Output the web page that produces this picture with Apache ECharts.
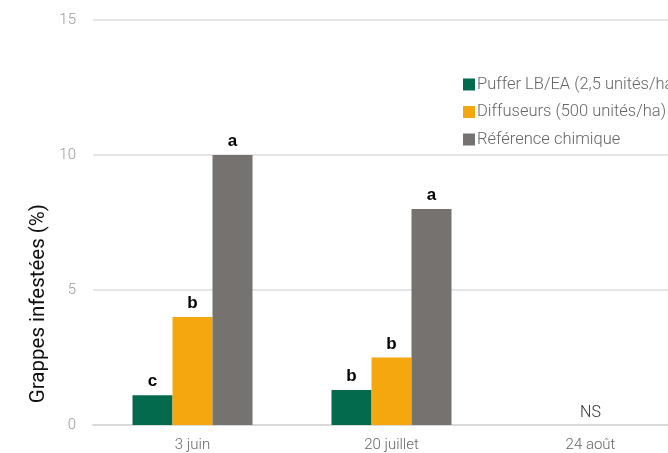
<!DOCTYPE html>
<html>
<head>
<meta charset="utf-8">
<script src="https://cdn.jsdelivr.net/npm/echarts@6/dist/echarts.min.js"></script>
<style>
html,body{margin:0;padding:0;background:#fff;overflow:hidden;width:668px;height:453px;}
#main{width:690px;height:453px;}
</style>
</head>
<body>
<div id="main"></div>
<script>
const categories = ['3 juin', '20 juillet', '24 août'];
const seriesNames = ['Puffer LB/EA (2,5 unités/ha)', 'Diffuseurs (500 unités/ha)', 'Référence chimique'];
const pufferValues = [1.1, 1.3, 0];
const diffuseurValues = [4, 2.5, 0];
const referenceValues = [10, 8, 0];
const pufferLetters = ['c', 'b', ''];
const diffuseurLetters = ['b', 'b', 'NS'];
const referenceLetters = ['a', 'a', ''];
const yTitle = 'Grappes infestées (%)';

const colors = ['#046A4E', '#F5A70F', '#767270'];
const FONT = 'Roboto';

function buildData(values, letters) {
  return values.map((v, i) => {
    const l = letters[i];
    const item = { value: v, label: { formatter: l } };
    if (l === 'NS') {
      item.label.fontWeight = 300;
      item.label.fontFamily = FONT;
      item.label.color = '#333';
      item.label.fontSize = 16;
      item.label.distance = 4;
    }
    return item;
  });
}

const chart = echarts.init(document.getElementById('main'), null, { renderer: 'canvas' });
const labelBase = {
  show: true, position: 'top', distance: 5,
  fontFamily: 'Liberation Sans', fontWeight: 'bold', fontSize: 17, color: '#000'
};
chart.setOption({
  animation: false,
  textStyle: { fontFamily: FONT },
  grid: { left: 93, top: 20, bottom: 28, right: 0, containLabel: false, outerBoundsMode: 'none' },
  legend: {
    orient: 'vertical', left: 458, top: 71,
    itemWidth: 12, itemHeight: 12, itemGap: 10.5,
    icon: 'rect',
    textStyle: { fontFamily: FONT, fontWeight: 300, fontSize: 16.5, lineHeight: 16, color: '#666', padding: [0, 0, 0, -3] },
    data: seriesNames
  },
  xAxis: {
    type: 'category', data: categories,
    axisLine: { lineStyle: { color: '#d9d9d9', width: 2 } },
    axisTick: { show: false },
    axisLabel: { fontFamily: FONT, fontWeight: 300, fontSize: 15, color: '#666', margin: 13 }
  },
  yAxis: {
    type: 'value', min: 0, max: 15, interval: 5,
    axisLine: { show: false }, axisTick: { show: false },
    splitLine: { lineStyle: { color: '#dcdcdc', width: 1.5 } },
    axisLabel: { fontFamily: FONT, fontWeight: 300, fontSize: 15, color: '#9a9a9a', margin: 17 }
  },
  graphic: [{
    type: 'text', left: 28, top: 204, rotation: Math.PI / 2,
    style: { text: yTitle, font: '20.5px ' + FONT, fill: '#111' }
  }],
  series: [
    { name: seriesNames[0], type: 'bar', barWidth: 40, barGap: '0%', itemStyle: { color: colors[0] },
      label: labelBase, data: buildData(pufferValues, pufferLetters) },
    { name: seriesNames[1], type: 'bar', barWidth: 40, barGap: '0%', itemStyle: { color: colors[1] },
      label: labelBase, data: buildData(diffuseurValues, diffuseurLetters) },
    { name: seriesNames[2], type: 'bar', barWidth: 40, barGap: '0%', itemStyle: { color: colors[2] },
      label: labelBase, data: buildData(referenceValues, referenceLetters) }
  ]
});
</script>
</body>
</html>
